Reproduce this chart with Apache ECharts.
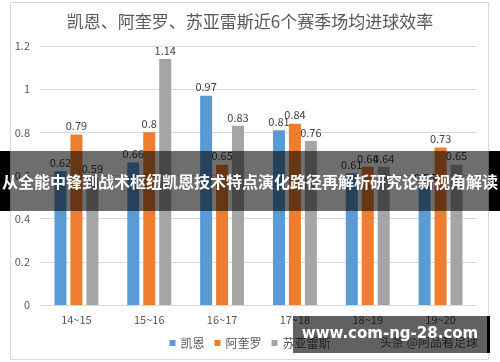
<!DOCTYPE html>
<html><head><meta charset="utf-8">
<script src="https://cdn.jsdelivr.net/npm/echarts@6/dist/echarts.min.js"></script>
<style>html,body{margin:0;padding:0;background:#fff}#c{width:500px;height:362px}</style>
</head><body><div id="c"></div>
<script>
const categories = ['14~15','15~16','16~17','17~18','18~19','19~20'];
const kane = [0.62,0.66,0.97,0.81,0.61,0.55];
const aguero = [0.79,0.8,0.65,0.84,0.64,0.73];
const suarez = [0.59,1.14,0.83,0.76,0.64,0.65];
const seriesNames = ['凯恩','阿奎罗','苏亚雷斯'];
const titleText = '凯恩、阿奎罗、苏亚雷斯近6个赛季场均进球效率';
const bannerText = '从全能中锋到战术枢纽凯恩技术特点演化路径再解析研究论新视角解读';
const watermarkText = 'www.com-ng-28.com';
const sourceText = '头条 @阿品看足球';

const font = '"Noto Sans CJK SC", "Noto Sans", sans-serif';
const chart = echarts.init(document.getElementById('c'));
const mk = (name, data, color) => ({
  name, type: 'bar', data, barWidth: 12, barGap: '33%',
  itemStyle: { color },
  label: { show: true, position: 'top', distance: 3, color: '#404040', fontSize: 11, fontFamily: font }
});
chart.setOption({
  animation: false,
  backgroundColor: '#fff',
  title: { text: titleText, left: 'center', top: 8,
    textStyle: { color: '#595959', fontSize: 17, fontWeight: 'normal', fontFamily: font } },
  legend: { bottom: 8, left: 'center', itemWidth: 6, itemHeight: 6, itemGap: 10, icon: 'rect',
    textStyle: { color: '#595959', fontSize: 12, fontFamily: font }, data: seriesNames },
  grid: { left: 40, right: 23, top: 46, bottom: 57, containLabel: false },
  xAxis: { type: 'category', data: categories,
    axisLine: { lineStyle: { color: '#d9d9d9' } }, axisTick: { show: false },
    axisLabel: { color: '#595959', fontSize: 11, fontFamily: font, margin: 9 } },
  yAxis: { type: 'value', min: 0, max: 1.2, interval: 0.2,
    axisLine: { show: false }, axisTick: { show: false },
    splitLine: { lineStyle: { color: '#d9d9d9' } },
    axisLabel: { color: '#595959', fontSize: 11, fontFamily: font, margin: 10,
      formatter: v => String(Math.round(v*10)/10) } },
  series: [mk(seriesNames[0], kane, '#5B9BD5'), mk(seriesNames[1], aguero, '#ED7D31'), mk(seriesNames[2], suarez, '#A5A5A5')],
  graphic: [
    { type: 'rect', z: -10, silent: true, shape: { x: 10.5, y: 2.5, width: 478, height: 357 },
      style: { fill: 'none', stroke: '#d9d9d9', lineWidth: 1 } },
    { type: 'text', z: 1, left: 380, top: 336, style: { text: sourceText, fill: '#595959', fontSize: 12, fontFamily: font } },
    { type: 'rect', z: 100, shape: { x: 0, y: 151, width: 500, height: 60 }, style: { fill: 'rgba(0,0,0,0.57)' } },
    { type: 'rect', z: 100, shape: { x: 0, y: 151, width: 10, height: 60 }, style: { fill: '#000' } },
    { type: 'rect', z: 100, shape: { x: 489, y: 151, width: 11, height: 60 }, style: { fill: '#000' } },
    { type: 'text', z: 101, x: 250, y: 182, style: { text: bannerText, fill: '#fff', fontSize: 16, fontWeight: 'bold',
      fontFamily: font, align: 'center', verticalAlign: 'middle' } },
    { type: 'rect', z: 100, shape: { x: 293, y: 316, width: 195, height: 37 }, style: { fill: 'rgba(0,0,0,0.62)' } },
    { type: 'rect', z: 100, shape: { x: 487, y: 316, width: 3, height: 37 }, style: { fill: '#000' } },
    { type: 'text', z: 101, x: 390, y: 334, style: { text: watermarkText, fill: '#fff', fontSize: 15, fontWeight: 'bold',
      fontFamily: '"DejaVu Sans", sans-serif', align: 'center', verticalAlign: 'middle' } }
  ]
});
</script></body></html>
